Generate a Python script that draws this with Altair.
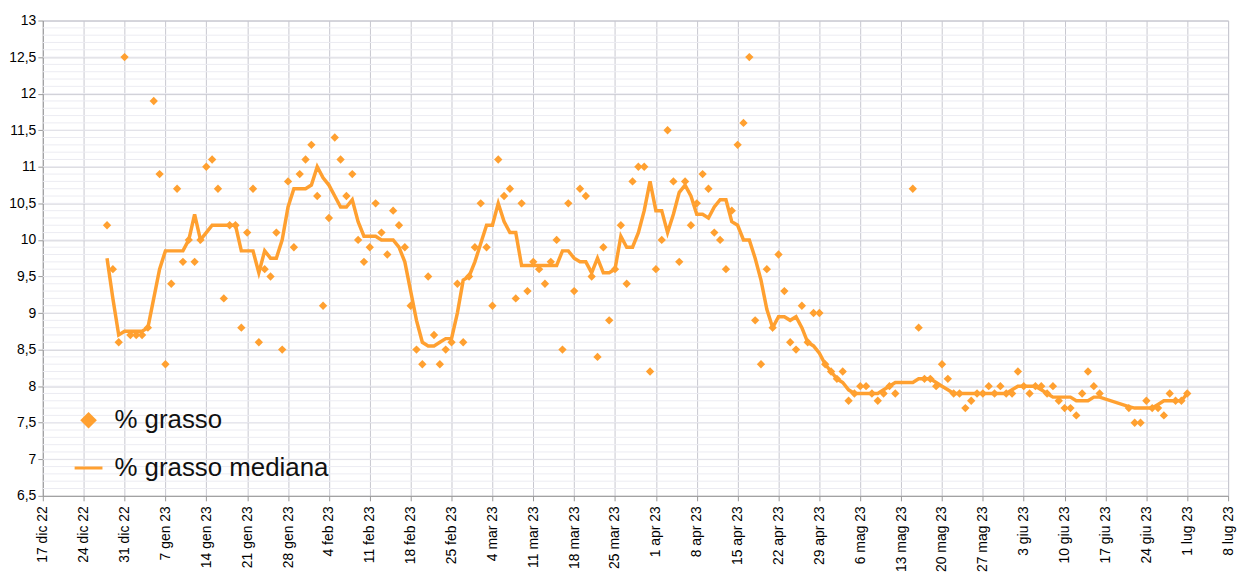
import altair as alt
import pandas as pd
import numpy as np

ORANGE = "#FFA030"

# daily readings, starting 28 dic 22 (None = no reading)
start = "2022-12-28"
grasso = [
    10.2, 9.6, 8.6, 12.5, 8.7, 8.7, 8.7, 8.8, 11.9, 10.9, 8.3, 9.4, 10.7, 9.7, 10.0, 9.7,
    10.0, 11.0, 11.1, 10.7, 9.2, 10.2, 10.2, 8.8, 10.1, 10.7, 8.6, 9.6, 9.5, 10.1, 8.5, 10.8,
    9.9, 10.9, 11.1, 11.3, 10.6, 9.1, 10.3, 11.4, 11.1, 10.6, 10.9, 10.0, 9.7, 9.9, 10.5, 10.1,
    9.8, 10.4, 10.2, 9.9, 9.1, 8.5, 8.3, 9.5, 8.7, 8.3, 8.5, 8.6, 9.4, 8.6, 9.5, 9.9, 10.5, 9.9,
    9.1, 11.1, 10.6, 10.7, 9.2, 10.5, 9.3, 9.7, 9.6, 9.4, 9.7, 10.0, 8.5, 10.5, 9.3, 10.7, 10.6,
    9.5, 8.4, 9.9, 8.9, 9.6, 10.2, 9.4, 10.8, 11.0, 11.0, 8.2, 9.6, 10.0, 11.5, 10.8, 9.7, 10.8,
    10.2, 10.5, 10.9, 10.7, 10.1, 10.0, 9.6, 10.4, 11.3, 11.6, 12.5, 8.9, 8.3, 9.6, 8.8, 9.8,
    9.3, 8.6, 8.5, 9.1, 8.6, 9.0, 9.0, 8.3, 8.2, 8.1, 8.2, 7.8, 7.9, 8.0, 8.0, 7.9, 7.8, 7.9,
    8.0, 7.9, None, None, 10.7, 8.8, 8.1, 8.1, 8.0, 8.3, 8.1, 7.9, 7.9, 7.7, 7.8, 7.9, 7.9, 8.0,
    7.9, 8.0, 7.9, 7.9, 8.2, 8.0, 7.9, 8.0, 8.0, 7.9, 8.0, 7.8, 7.7, 7.7, 7.6, 7.9, 8.2, 8.0,
    7.9, None, None, None, None, 7.7, 7.5, 7.5, 7.8, 7.7, 7.7, 7.6, 7.9, 7.8, 7.8, 7.9,
]
mediana = [
    9.75, 9.2, 8.7, 8.75, 8.75, 8.75, 8.75, 8.8, 9.2, 9.6, 9.85, 9.85, 9.85, 9.85, 10.0, 10.35,
    10.0, 10.1, 10.2, 10.2, 10.2, 10.2, 10.2, 9.85, 9.85, 9.85, 9.55, 9.85, 9.75, 9.75, 10.0, 10.45,
    10.7, 10.7, 10.7, 10.75, 11.0, 10.85, 10.75, 10.6, 10.45, 10.45, 10.55, 10.25, 10.05, 10.05, 10.05, 10.0,
    10.0, 10.0, 9.9, 9.7, 9.3, 8.9, 8.6, 8.55, 8.55, 8.6, 8.65, 8.65, 9.0, 9.45, 9.5, 9.7, 9.95, 10.2,
    10.2, 10.5, 10.25, 10.1, 10.1, 9.65, 9.65, 9.65, 9.65, 9.65, 9.65, 9.65, 9.85, 9.85, 9.75, 9.7, 9.7,
    9.55, 9.75, 9.55, 9.55, 9.6, 10.05, 9.9, 9.9, 10.1, 10.4, 10.8, 10.4, 10.4, 10.1, 10.35, 10.65, 10.75,
    10.6, 10.35, 10.35, 10.3, 10.45, 10.55, 10.55, 10.25, 10.2, 10.0, 10.0, 9.75, 9.45, 9.05, 8.8, 8.95,
    8.95, 8.9, 8.95, 8.8, 8.6, 8.55, 8.45, 8.3, 8.2, 8.1, 8.05, 7.95, 7.9, 7.9, 7.9, 7.9, 7.9, 7.95,
    8.0, 8.05, None, None, 8.05, 8.1, 8.1, 8.1, 8.05, 8.0, 7.95, 7.9, 7.9, 7.9, 7.9, 7.9, 7.9, 7.9,
    7.9, 7.9, 7.9, 7.95, 8.0, 8.0, 8.0, 8.0, 7.95, 7.9, 7.85, 7.85, 7.85, 7.85, 7.8, 7.8, 7.8, 7.85,
    7.85, None, None, None, None, 7.72, 7.7, 7.7, 7.7, 7.7, 7.75, 7.8, 7.8, 7.8, 7.8, 7.9,
]
week_ticks = pd.date_range("2022-12-17", "2023-07-08", freq="7D")

dates = pd.date_range(start, periods=len(grasso), freq="D")
df = pd.DataFrame({"data": dates, "grasso": grasso, "mediana": mediana})
pts = df.dropna(subset=["grasso"])
med = df.dropna(subset=["mediana"])

mesi = "['gen','feb','mar','apr','mag','giu','lug','ago','set','ott','nov','dic']"
x = alt.X(
    "data:T",
    scale=alt.Scale(domain=[alt.DateTime(year=2022, month=12, date=17),
                            alt.DateTime(year=2023, month=7, date=8)]),
    axis=alt.Axis(
        title=None,
        values=[alt.DateTime(year=d.year, month=d.month, date=d.day) for d in week_ticks],
        labelExpr=f"date(datum.value) + ' ' + {mesi}[month(datum.value)] + ' ' + (year(datum.value) % 100)",
        labelAngle=-90, labelAlign="right", labelBaseline="middle",
        grid=True, gridColor="#c8c8d0", domainColor="#999", tickColor="#999",
        labelFontSize=14, labelPadding=5, labelOverlap=False,
    ),
)
y_scale = alt.Scale(domain=[6.5, 13], nice=False)
y_axis = alt.Axis(
    title=None, values=list(np.arange(6.5, 13.01, 0.5)),
    labelExpr="replace(format(datum.value, '.1~f'), '.', ',')",
    gridColor="#c8c8d0", domainColor="#999", tickColor="#999", labelFontSize=14,
)

minor = alt.Chart(pd.DataFrame({"v": np.round(np.arange(6.6, 13, 0.1), 1)})).mark_rule(
    color="#ececf2", strokeWidth=1
).encode(y=alt.Y("v:Q", scale=y_scale, axis=y_axis))

points = alt.Chart(pts).mark_point(
    shape="diamond", filled=True, size=70, color=ORANGE, opacity=1
).encode(x=x, y=alt.Y("grasso:Q", scale=y_scale, axis=y_axis))

line = alt.Chart(med).mark_line(color=ORANGE, strokeWidth=3.5).encode(
    x=x, y=alt.Y("mediana:Q", scale=y_scale, axis=y_axis)
)

leg = pd.DataFrame({"t": ["% grasso", "% grasso mediana"], "py": [402, 450]})
leg_pt = alt.Chart(leg.iloc[:1]).mark_point(
    shape="diamond", filled=True, size=280, color=ORANGE, opacity=1
).encode(x=alt.value(46), y=alt.value(402))
leg_ln = alt.Chart(leg.iloc[1:]).mark_rule(color=ORANGE, strokeWidth=3).encode(
    x=alt.value(32), x2=alt.value(60), y=alt.value(450)
)
leg_tx = alt.Chart(leg).mark_text(
    align="left", baseline="middle", fontSize=26, color="#111"
).encode(x=alt.value(72), y=alt.Y("py:Q", scale=None), text="t:N")

chart = alt.layer(minor, line, points, leg_pt, leg_ln, leg_tx).properties(
    width=1192, height=478, padding={"left": 0, "top": 4, "right": 12, "bottom": 0}
).configure(font="Liberation Sans").configure_view(stroke="#c8c8d0")

chart.save("out.html", embed_options={"renderer": "svg", "actions": False})
